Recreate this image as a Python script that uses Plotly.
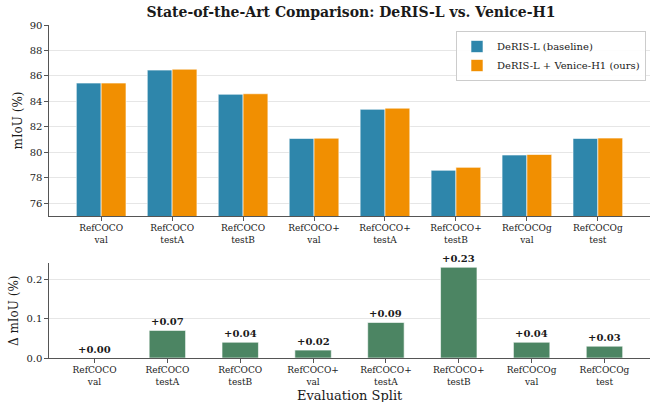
import plotly.graph_objects as go

categories = ["RefCOCO<br>val", "RefCOCO<br>testA", "RefCOCO<br>testB", "RefCOCO+<br>val",
              "RefCOCO+<br>testA", "RefCOCO+<br>testB", "RefCOCOg<br>val", "RefCOCOg<br>test"]
baseline = [85.44, 86.46, 84.56, 81.09, 83.38, 78.59, 79.79, 81.09]
ours = [85.44, 86.53, 84.60, 81.11, 83.47, 78.82, 79.83, 81.12]
delta = [0.00, 0.07, 0.04, 0.02, 0.09, 0.23, 0.04, 0.03]
delta_labels = ["+0.00", "+0.07", "+0.04", "+0.02", "+0.09", "+0.23", "+0.04", "+0.03"]
top_ticks = [76, 78, 80, 82, 84, 86, 88, 90]
bottom_ticks = [0.0, 0.1, 0.2]
bottom_tick_text = ["0.0", "0.1", "0.2"]

BLUE = "#2E86AB"
ORANGE = "#F18F01"
GREEN = "#4C8563"
FONT = "DejaVu Serif"
TXT = "#1a1a1a"
SPINE = "#555555"
GRID = "#e6e6e6"

xs = list(range(len(categories)))
W = 650
H = 402
ML, MR, MT, MB = 49, 0, 25, 44
PH = H - MT - MB
PW = W - ML - MR

fig = go.Figure()
fig.add_trace(go.Bar(x=xs, y=baseline, name="DeRIS-L (baseline)", width=0.35, offset=-0.35,
                     marker=dict(color=BLUE, line=dict(color="rgba(255,255,255,0.6)", width=1)),
                     xaxis="x", yaxis="y"))
fig.add_trace(go.Bar(x=xs, y=ours, name="DeRIS-L + Venice-H1 (ours)", width=0.35, offset=0,
                     marker=dict(color=ORANGE, line=dict(color="rgba(255,255,255,0.6)", width=1)),
                     xaxis="x", yaxis="y"))
fig.add_trace(go.Bar(x=xs, y=delta, name="delta", width=0.5, showlegend=False,
                     marker=dict(color=GREEN, line=dict(color="rgba(255,255,255,0.6)", width=1)),
                     xaxis="x2", yaxis="y2"))

for xi, d, lab in zip(xs, delta, delta_labels):
    fig.add_annotation(x=xi, y=d, xref="x2", yref="y2", text="<b>" + lab + "</b>",
                       showarrow=False, yanchor="bottom", yshift=1,
                       font=dict(family=FONT, size=10, color=TXT))

top_bottom = (358 - 216) / PH
bot_top = (358 - 262.7) / PH

axis_common = dict(showline=True, linecolor=SPINE, linewidth=1.2, ticks="outside",
                   ticklen=3.5, tickwidth=1, tickcolor=SPINE, zeroline=False)

fig.update_layout(
    width=W, height=H,
    margin=dict(l=ML, r=MR, t=MT, b=MB),
    paper_bgcolor="white", plot_bgcolor="white",
    font=dict(family=FONT, color=TXT),
    barmode="overlay",
    title=dict(text="<b>State-of-the-Art Comparison: DeRIS-L vs. Venice-H1</b>",
               x=(351) / W, xanchor="center", y=1 - 12.5 / H, yanchor="middle",
               font=dict(family=FONT, size=14, color=TXT)),
    xaxis=dict(domain=[0, 1], range=[-0.735, 7.735], tickvals=xs, ticktext=categories,
               tickfont=dict(family=FONT, size=9, color=TXT), anchor="y", showgrid=False,
               **axis_common),
    yaxis=dict(domain=[top_bottom, 1], range=[75, 90], tickvals=top_ticks,
               tickfont=dict(family=FONT, size=10, color=TXT), showgrid=True,
               gridcolor=GRID, gridwidth=1, anchor="x", **axis_common),
    xaxis2=dict(domain=[0, 1], range=[-0.625, 7.625], tickvals=xs, ticktext=categories,
                tickfont=dict(family=FONT, size=9, color=TXT), anchor="y2", showgrid=False,
                **axis_common),
    yaxis2=dict(domain=[0, bot_top], range=[0, 0.2415], tickvals=bottom_ticks,
                ticktext=bottom_tick_text,
                tickfont=dict(family=FONT, size=10, color=TXT), showgrid=True,
                gridcolor=GRID, gridwidth=1, anchor="x2", **axis_common),
    legend=dict(x=(646 - ML) / PW, xanchor="right", y=1 - 6 / PH, yanchor="top",
                bgcolor="rgba(255,255,255,0.9)", bordercolor="#cccccc", borderwidth=1,
                font=dict(family=FONT, size=10, color=TXT), tracegroupgap=0,
                itemwidth=30),
    showlegend=True,
)

fig.add_annotation(text="mIoU (%)", xref="paper", yref="paper",
                   x=(17.5 - ML) / PW, y=(358 - 121) / PH, textangle=-90,
                   showarrow=False, xanchor="center", yanchor="middle",
                   font=dict(family=FONT, size=12, color=TXT))
fig.add_annotation(text="Δ mIoU (%)", xref="paper", yref="paper",
                   x=(14 - ML) / PW, y=(358 - 311) / PH, textangle=-90,
                   showarrow=False, xanchor="center", yanchor="middle",
                   font=dict(family=FONT, size=12, color=TXT))
fig.add_annotation(text="Evaluation Split", xref="paper", yref="paper",
                   x=0.5, y=(358 - 395.5) / PH,
                   showarrow=False, xanchor="center", yanchor="middle",
                   font=dict(family=FONT, size=13, color=TXT))

fig.write_html("out.html", config={"displayModeBar": False},
               post_script="document.body.style.margin='0';document.body.style.padding='0';")
